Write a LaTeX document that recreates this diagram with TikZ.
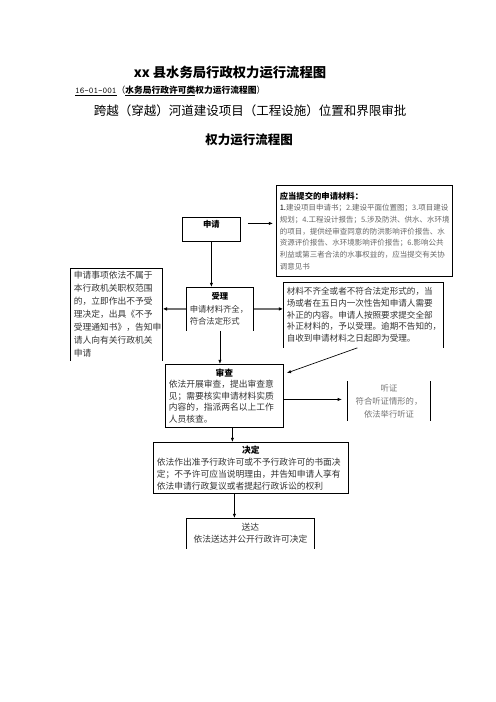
\documentclass[tikz,border=0pt]{standalone}
\usepackage{fontspec}
\setmainfont{Noto Sans CJK SC}
\usetikzlibrary{arrows.meta}
\newcommand{\boxhead}[1]{\makebox[\linewidth]{\textcolor{black}{\bfseries #1}}}

\begin{document}
\begin{tikzpicture}[x=1.2pt,y=-1.2pt,>={Latex[length=5pt,width=4pt]},
	procbox/.style={draw,line width=1pt,anchor=north west,inner xsep=4pt,inner ysep=2pt,text=black!80},
	openproc/.style={procbox,draw=none},
	boxline/.style={line width=1pt},
	flow/.style={->,line width=0.8pt},
	grayflow/.style={-{Latex[length=5pt,width=4.5pt,color=black]},draw=black!55,line width=2pt}]
		\useasboundingbox (0,0) rectangle (496,702);
		\path
		(230,73) node[font=\fontsize{16}{18}\selectfont\bfseries] (title) {xx 县水务局行政权力运行流程图}
		(75,91) node[anchor=west,inner sep=0pt,font=\fontsize{10.5}{12}\selectfont] (code) {\underline{\ttfamily 16-01-001}（\textbf{\underline{水务局行政许可类}权力运行流程图}）}
		(250,111) node[font=\fontsize{15}{18}\selectfont] (item) {跨越（穿越）河道建设项目（工程设施）位置和界限审批}
		(249,140) node[font=\fontsize{15}{18}\selectfont\bfseries] (sub) {权力运行流程图}
		(182,217) node[procbox,minimum width=69.6pt,minimum height=28.8pt,text depth=14pt,text=black] (apply) {\textbf{申请}}
		(276,185) node[procbox,text width=203.2pt,minimum height=109.2pt,align=left,font=\fontsize{9}{14}\selectfont,text=black!60] (list)
		{{\color{black}\fontsize{10}{14}\selectfont\bfseries 应当提交的申请材料：}\\
		{\color{black}1.}建设项目申请书；2.建设平面位置图；3.项目建设\\
		规划；4.工程设计报告；5.涉及防洪、供水、水环境\\
		的项目，提供经审查同意的防洪影响评价报告、水\\
		资源评价报告、水环境影响评价报告；6.影响公共\\
		利益或第三者合法的水事权益的，应当提交有关协\\
		调意见书}
		(186,287) node[openproc,text width=72.4pt,minimum height=51.6pt,align=left,font=\fontsize{10}{15}\selectfont] (accept)
		{\boxhead{受理}\\申请材料齐全，\\符合法定形式}
		(70,268) node[openproc,text width=102.4pt,minimum height=110.4pt,align=left,font=\fontsize{10.5}{15.6}\selectfont] (refuse)
		{申请事项依法不属于\\本行政机关职权范围\\的，立即作出不予受\\理决定，出具《不予\\受理通知书》，告知申\\请人向有关行政机关\\申请}
		(283,282) node[openproc,text width=184pt,minimum height=78pt,align=left,font=\fontsize{10.3}{14.1}\selectfont] (amend)
		{材料不齐全或者不符合法定形式的，当\\场或者在五日内一次性告知申请人需要\\补正的内容。申请人按照要求提交全部\\补正材料的，予以受理。逾期不告知的，\\自收到申请材料之日起即为受理。}
		(165,364) node[procbox,text width=133.6pt,minimum height=75.6pt,align=left,font=\fontsize{10.5}{13.8}\selectfont] (review)
		{\boxhead{审查}\\依法开展审查，提出审查意\\见；需要核实申请材料实质\\内容的，指派两名以上工作\\人员核查。}
		(389,401) node[minimum width=98.4pt,minimum height=45.6pt,align=center,font=\fontsize{10}{15.6}\selectfont,text=black!55] (hearing)
		{听证\\符合听证情形的，\\依法举行听证}
		(153,442) node[procbox,text width=226pt,minimum height=61.2pt,align=left,font=\fontsize{10.5}{14.5}\selectfont] (decide)
		{\boxhead{决定}\\依法作出准予行政许可或不予行政许可的书面决\\定；不予许可应当说明理由，并告知申请人享有\\依法申请行政复议或者提起行政诉讼的权利}
		(186,518) node[openproc,text width=145.6pt,minimum height=36pt,align=center,font=\fontsize{10.5}{14}\selectfont] (deliver)
		{送达\\依法送达并公开行政许可决定}
		;
		% sides of the boxes left open at the bottom
		\draw[boxline] (accept.south west) |- (accept.north east) -- (accept.south east);
		\draw[boxline] (refuse.south west) |- (refuse.north east) -- (refuse.south east);
		\draw[boxline] (amend.south west) |- (amend.north east) -- (amend.south east);
		\draw[boxline] (deliver.south west) |- (deliver.north east) -- (deliver.south east);
		\draw[boxline] (hearing.north west) -- (hearing.south west) (hearing.north east) -- (hearing.south east);
		% connectors
		\draw[flow,shorten <=8.4pt,shorten >=3.6pt] ([yshift=7.2pt]apply.east) -- ([yshift=7.2pt]apply.east -| list.west);
		\draw[flow] (apply.south) -- (apply.south |- accept.north);
		\draw[grayflow] (accept.west) -- (accept.west -| refuse.east);
		\draw[grayflow] (accept.east) -- (accept.east -| amend.west);
		\draw[flow] (accept.south) -- (accept.south |- review.north);
		\draw[flow] ([xshift=-7.2pt]amend.south) -- ([xshift=3.6pt,yshift=-10.8pt]review.north east);
		\draw[flow,shorten >=7.2pt] ([yshift=-4.2pt]review.east) -- ([yshift=-4.2pt]review.east -| hearing.west);
		\draw[flow] ([xshift=9.6pt]review.south) -- ([xshift=9.6pt]review.south |- decide.north);
		\draw[flow] ([xshift=-19.8pt]decide.south) -- ([xshift=-19.8pt]decide.south |- deliver.north);
		\end{tikzpicture}
\end{document}
